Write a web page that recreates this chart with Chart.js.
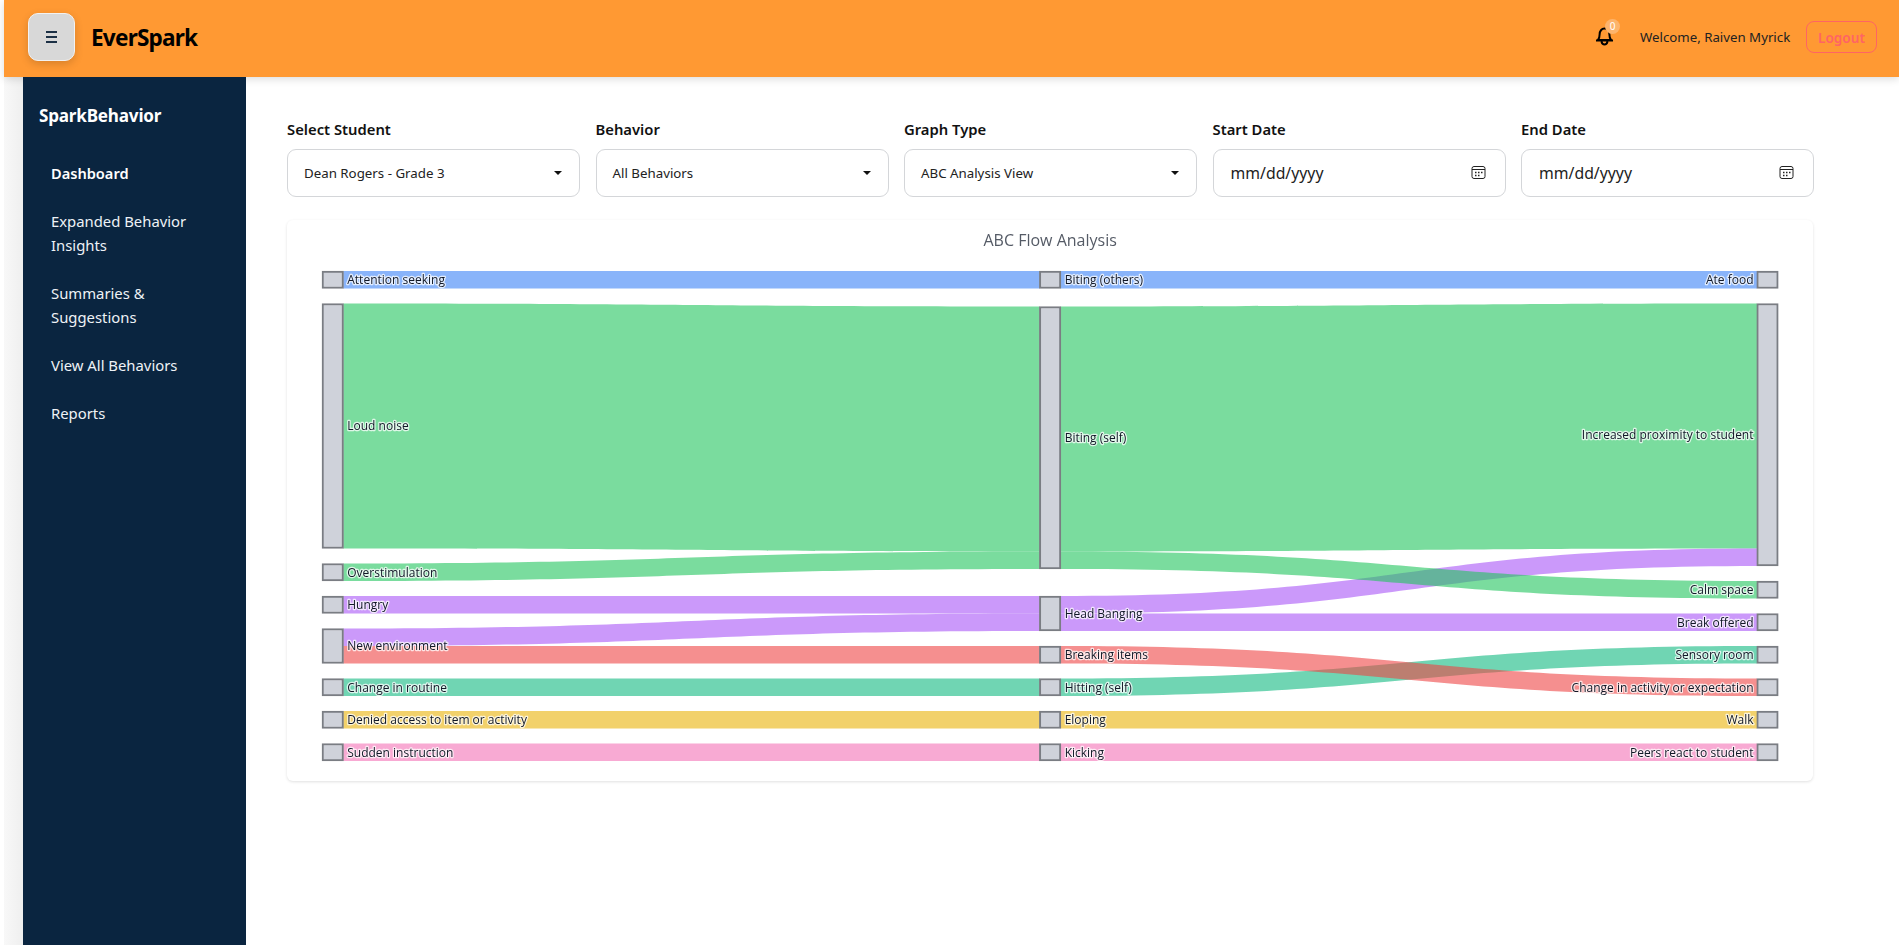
<!DOCTYPE html>
<html>
<head>
<meta charset="utf-8">
<title>EverSpark</title>
<script src="https://cdn.jsdelivr.net/npm/chart.js@4"></script>
<style>
html, body { margin: 0; width: 1899px; height: 945px; overflow: hidden; background: #fff; font-family: "Noto Sans", sans-serif; color: #111; }
.abs { position: absolute; white-space: nowrap; }
#strip { left: 4px; top: 77px; width: 19px; height: 868px; background: linear-gradient(90deg, #f8f8f8, #efefef); }
#header { left: 4px; top: 0; width: 1895px; height: 77px; background: #ff9933; box-shadow: 0 2px 8px rgba(0,0,0,.14); }
#menu { left: 28px; top: 13px; width: 45px; height: 46px; background: #d8d8d8; border: 1px solid #f2f2f2; border-radius: 10px; box-shadow: 0 3px 8px rgba(0,0,0,.16); }
#menu i { position: absolute; left: 17px; width: 11px; height: 2px; background: #1c3045; }
#logo { left: 91px; top: 22px; font-size: 22.6px; line-height: 32px; font-weight: 700; letter-spacing: -.8px; color: #000; }
#badge { left: 1605px; top: 19px; width: 15px; height: 15px; border-radius: 50%; background: #fdb46c; color: #fff; font-size: 10px; line-height: 15px; text-align: center; }
#welcome { left: 1640px; top: 27px; font-size: 13.25px; line-height: 20px; color: #222; }
#logout { left: 1806px; top: 21px; width: 69px; height: 30px; border: 1.5px solid #ff6464; border-radius: 8px; color: #ff6464; font-size: 13.6px; font-weight: 600; line-height: 31px; text-align: center; }
#sidebar { left: 23px; top: 77px; width: 223px; height: 868px; background: #0a2540; color: #eef2f6; }
#brand { left: 16px; top: 27px; font-size: 17.1px; line-height: 24px; font-weight: 700; letter-spacing: -.2px; color: #fff; }
.nav { left: 28px; font-size: 14.85px; line-height: 24px; }
.nav.on { font-weight: 600; font-size: 14.6px; color: #fff; }
.lab { top: 118px; font-size: 14.8px; line-height: 22px; font-weight: 600; color: #111; }
.box { top: 149px; width: 291px; height: 46px; border: 1px solid #d4d6d9; border-radius: 9px; background: #fff; }
.val { left: 16px; top: 13px; font-size: 13.3px; line-height: 20px; color: #222; }
.caret { position: absolute; left: 266px; top: 21px; width: 0; height: 0; border-left: 4px solid transparent; border-right: 4px solid transparent; border-top: 4.5px solid #111; }
.date { left: 17px; top: 12px; font-size: 15.8px; line-height: 22px; color: #222; }
.box svg { position: absolute; left: 257px; top: 15px; }
#card { left: 287px; top: 220px; width: 1526px; height: 561px; border-radius: 6px; background: #fff; box-shadow: 0 1px 3px rgba(0,0,0,.12); }
#chart { position: absolute; left: 287px; top: 220px; }
</style>
</head>
<body>
<div class="abs" id="strip"></div>
<div class="abs" id="header"></div>
<div class="abs" id="menu"><i style="top:17px"></i><i style="top:22px"></i><i style="top:27px"></i></div>
<div class="abs" id="logo">EverSpark</div>
<svg class="abs" style="left:1594px;top:25px" width="21" height="22" viewBox="0 0 21 22" fill="none" stroke="#000" stroke-width="2"><path d="M4 15c1.4-1.6 1.6-3 1.6-5.4C5.6 6 7.6 3.6 10.5 3.6s4.900 2.400 4.900 6c0 2.400.2 3.800 1.600 5.400z"/><path d="M2 15.500h17M7.500 16.500c.4 2 1.500 3 3 3s2.600-1 3-3"/></svg>
<div class="abs" id="badge">0</div>
<div class="abs" id="welcome">Welcome, Raiven Myrick</div>
<div class="abs" id="logout">Logout</div>

<div class="abs" id="sidebar">
    <div class="abs" id="brand">SparkBehavior</div>
    <div class="abs nav on" style="top:84px">Dashboard</div>
    <div class="abs nav" style="top:132px">Expanded Behavior</div>
    <div class="abs nav" style="top:156px">Insights</div>
    <div class="abs nav" style="top:204px">Summaries &amp;</div>
    <div class="abs nav" style="top:228px">Suggestions</div>
    <div class="abs nav" style="top:276px">View All Behaviors</div>
    <div class="abs nav" style="top:324px">Reports</div>
</div>

<div class="abs lab" style="left:287px">Select Student</div>
<div class="abs box" style="left:287px"><div class="abs val">Dean Rogers - Grade 3</div><div class="caret"></div></div>
<div class="abs lab" style="left:595.500px">Behavior</div>
<div class="abs box" style="left:595.500px"><div class="abs val">All Behaviors</div><div class="caret"></div></div>
<div class="abs lab" style="left:904px">Graph Type</div>
<div class="abs box" style="left:904px"><div class="abs val">ABC Analysis View</div><div class="caret"></div></div>
<div class="abs lab" style="left:1212.500px">Start Date</div>
<div class="abs box" style="left:1212.500px"><div class="abs date">mm/dd/yyyy</div>
    <svg width="15" height="15" viewBox="0 0 15 15" fill="none" stroke="#222"><rect x="1" y="1.500" width="13" height="12" rx="2"/><path d="M1 4.500h13"/><path stroke-width="1.500" d="M4 7.500h1.500M7 7.500h1.500M10 7.500h1.500M4 10.500h1.500M7 10.500h1.500"/></svg></div>
<div class="abs lab" style="left:1521px">End Date</div>
<div class="abs box" style="left:1521px"><div class="abs date">mm/dd/yyyy</div>
    <svg width="15" height="15" viewBox="0 0 15 15" fill="none" stroke="#222"><rect x="1" y="1.500" width="13" height="12" rx="2"/><path d="M1 4.500h13"/><path stroke-width="1.500" d="M4 7.500h1.500M7 7.500h1.500M10 7.500h1.500M4 10.500h1.500M7 10.500h1.500"/></svg></div>

<div class="abs" id="card"></div>
<canvas id="chart" width="1527" height="561"></canvas>

<script>
const chartTitle = "ABC Flow Analysis";

const antecedents = [
    "Attention seeking", "Loud noise", "Overstimulation", "Hungry",
    "New environment", "Change in routine",
    "Denied access to item or activity", "Sudden instruction"
];

const behaviors = [
    "Biting (others)", "Biting (self)", "Head Banging", "Breaking items",
    "Hitting (self)", "Eloping", "Kicking"
];

const consequences = [
    "Ate food", "Increased proximity to student", "Calm space", "Break offered",
    "Sensory room", "Change in activity or expectation", "Walk",
    "Peers react to student"
];

// draw order matters, later ribbons sit on top where they cross
const flowSources = [
    "Attention seeking", "Biting (others)",
    "Loud noise", "Overstimulation", "Biting (self)",
    "Hungry", "New environment", "Head Banging", "Head Banging",
    "Biting (self)",
    "Change in routine", "Hitting (self)",
    "New environment", "Breaking items",
    "Denied access to item or activity", "Eloping",
    "Sudden instruction", "Kicking"
];

const flowTargets = [
    "Biting (others)", "Ate food",
    "Biting (self)", "Biting (self)", "Increased proximity to student",
    "Head Banging", "Head Banging", "Increased proximity to student", "Break offered",
    "Calm space",
    "Hitting (self)", "Sensory room",
    "Breaking items", "Change in activity or expectation",
    "Eloping", "Walk",
    "Kicking", "Peers react to student"
];

const flowValues = [
    1, 1,
    14, 1, 14,
    1, 1, 1, 1,
    1,
    1, 1,
    1, 1,
    1, 1,
    1, 1
];

const flowGroups = [
    "blue", "blue",
    "green", "green", "green",
    "purple", "purple", "purple", "purple",
    "green",
    "teal", "teal",
    "red", "red",
    "yellow", "yellow",
    "pink", "pink"
];

const groupColors =
{
    blue: "rgba(59,130,246,0.6)",
    green: "rgba(34,197,94,0.6)",
    purple: "rgba(168,85,247,0.6)",
    teal: "rgba(16,185,129,0.6)",
    red: "rgba(239,68,68,0.6)",
    yellow: "rgba(234,179,8,0.6)",
    pink: "rgba(244,114,182,0.6)"
};

const columns = [antecedents, behaviors, consequences];
const nodeGap = 6 / 7;
const extraGap = { "Biting (self)": 0.17, "Head Banging": 0.687 };
const nodeWidth = 21;

function nodeSize(name)
{
    let incoming = 0;
    let outgoing = 0;

    flowValues.forEach((value, i) =>
    {
        if(flowTargets[i] === name) incoming += value;
        if(flowSources[i] === name) outgoing += value;
    });

    return Math.max(incoming, outgoing);
}

// stack each column top down, in the value units of the y scale
function buildLayout()
{
    const layout = {};

    columns.forEach((names, column) =>
    {
        let top = 0;

        names.forEach(name =>
        {
            top += extraGap[name] || 0;
            const size = nodeSize(name);
            layout[name] = { column, top, size, inOffset: 0, outOffset: 0 };
            top += size + nodeGap;
        });
    });

    return layout;
}

const layout = buildLayout();

const nodeBars = Object.values(layout).map(
    node => ({ x: node.column, y: [node.top, node.top + node.size] })
);

const flowPlugin =
{
    id: "flowPlugin",
    beforeDatasetsDraw(chart)
    {
        const { ctx, scales } = chart;
        const halfWidth = nodeWidth / 2;

        Object.values(layout).forEach(node =>
        {
            node.inOffset = 0;
            node.outOffset = 0;
        });

        flowValues.forEach((value, i) =>
        {
            const source = layout[flowSources[i]];
            const target = layout[flowTargets[i]];

            const x0 = scales.x.getPixelForValue(source.column) + halfWidth;
            const x1 = scales.x.getPixelForValue(target.column) - halfWidth;
            const mid = (x0 + x1) / 2;

            const y0 = scales.y.getPixelForValue(source.top + source.outOffset);
            const y1 = scales.y.getPixelForValue(target.top + target.inOffset);
            const y2 = scales.y.getPixelForValue(target.top + target.inOffset + value);
            const y3 = scales.y.getPixelForValue(source.top + source.outOffset + value);

            source.outOffset += value;
            target.inOffset += value;

            ctx.save();
            ctx.fillStyle = groupColors[flowGroups[i]];
            ctx.beginPath();
            ctx.moveTo(x0, y0);
            ctx.bezierCurveTo(mid, y0, mid, y1, x1, y1);
            ctx.lineTo(x1, y2);
            ctx.bezierCurveTo(mid, y2, mid, y3, x0, y3);
            ctx.closePath();
            ctx.fill();
            ctx.restore();
        });
    },
    afterDatasetsDraw(chart)
    {
        const { ctx, scales } = chart;

        ctx.save();
        ctx.font = "12px 'Open Sans'";
        ctx.textBaseline = "middle";
        ctx.lineJoin = "round";

        Object.entries(layout).forEach(([name, node]) =>
        {
            const right = node.column === 2;
            const x = scales.x.getPixelForValue(node.column)
                + (right ? -nodeWidth / 2 - 3.5 : nodeWidth / 2 + 4);
            const y = scales.y.getPixelForValue(node.top + node.size / 2) + 1;

            ctx.textAlign = right ? "right" : "left";
            ctx.lineWidth = 2.5;
            ctx.strokeStyle = "rgba(255,255,255,0.75)";
            ctx.strokeText(name, x, y);
            ctx.fillStyle = "#111827";
            ctx.fillText(name, x, y);
        });

        ctx.restore();
    }
};

new Chart(
    document.getElementById("chart"),
    {
        type: "bar",
        plugins: [flowPlugin],
        data:
        {
            datasets: [
                {
                    data: nodeBars,
                    backgroundColor: "#cfd2da",
                    borderColor: "#7a7d83",
                    borderWidth: 2,
                    borderSkipped: false,
                    barThickness: nodeWidth + 0.5,
                    clip: false
                }
            ]
        },
        options:
        {
            responsive: false,
            animation: false,
            devicePixelRatio: 1,
            layout: { padding: { left: 45.75, right: 46.5, bottom: 20 } },
            plugins:
            {
                legend: { display: false },
                tooltip: { enabled: false },
                title:
                {
                    display: true,
                    text: chartTitle,
                    color: "#555b66",
                    font: { family: "Open Sans", size: 16, weight: "normal" },
                    padding: { top: 11.4, bottom: 20.4 }
                }
            },
            scales:
            {
                x: { type: "linear", min: 0, max: 2, offset: false, display: false },
                y: { type: "linear", min: 0, max: 28, reverse: true, display: false }
            }
        }
    }
);
</script>
</body>
</html>
